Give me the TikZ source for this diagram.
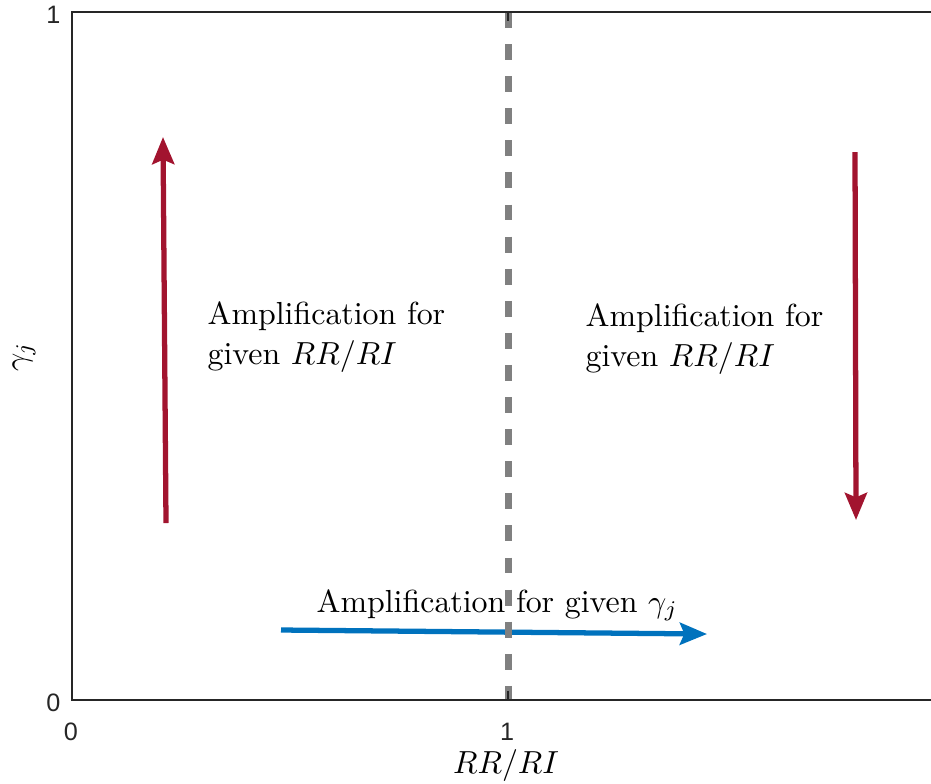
\documentclass[tikz,border=0pt]{standalone}
\usepackage{fontspec}
\newfontfamily\ticksf{Liberation Sans}
\usetikzlibrary{arrows.meta}
\definecolor{mred}{HTML}{A2142F}
\definecolor{mblue}{HTML}{0072BD}
\definecolor{axgray}{HTML}{262626}
\definecolor{dashgray}{HTML}{808080}
\begin{document}
\begin{tikzpicture}[x=0.3135pt,y=-0.3135pt,
  axisline/.style={draw=axgray,line width=0.45pt},
  ticklbl/.style={inner sep=0pt,text=axgray,font=\ticksf\fontsize{7.9}{9}\selectfont},
  lbl/.style={inner sep=0pt,align=left,font=\fontsize{10}{12.4}\selectfont},
  redarrow/.style={draw=mred,line width=1.65pt,-{Stealth[length=8.5pt,width=6.9pt,inset=1.4pt]}},
  bluearrow/.style={draw=mblue,line width=1.65pt,-{Stealth[length=8.5pt,width=6.9pt,inset=1.4pt]}},
  dividerline/.style={draw=dashgray,line width=2.2pt,dash pattern=on 5pt off 5.06pt}]
\useasboundingbox (0,0) rectangle (931,783);
% axes box
\coordinate (tl) at (72,12);
\coordinate (bl) at (72,700);
\coordinate (tr) at (931,12);
\coordinate (br) at (931,700);
% tick ends
\coordinate (xt0b) at (72,691);
\coordinate (xt1b) at (508,700);
\coordinate (xt1bi) at (508,691);
\coordinate (xt0t) at (72,21);
\coordinate (xt1t) at (508,12);
\coordinate (xt1ti) at (508,21);
\coordinate (yt1i) at (81,12);
\coordinate (yt0i) at (81,700);
% labels
\node[ticklbl,anchor=base east] (y1) at (61,23) {1};
\node[ticklbl,anchor=base east] (y0) at (61,711) {0};
\node[ticklbl,anchor=base] (x0) at (71,740) {0};
\node[ticklbl,anchor=base] (x1) at (507,740) {1};
\node[inner sep=0pt,anchor=base] (xlab) at (506,773) {$RR/RI$};
\node[inner sep=0pt,rotate=90] (ylab) at (24,357) {$\gamma_j$};
% text annotations
\node[lbl,anchor=base west] (tleft) at (207,364) {Amplification for\\given $RR/RI$};
\node[lbl,anchor=base west] (tright) at (585,366) {Amplification for\\given $RR/RI$};
\node[lbl,anchor=base west] (tbottom) at (316,612) {Amplification for given $\gamma_j$};
% arrows
\coordinate (la0) at (166,523);
\coordinate (la1) at (163,137);
\coordinate (ra0) at (855,152);
\coordinate (ra1) at (856,520);
\coordinate (ba0) at (281,630);
\coordinate (ba1) at (707,634);
\draw[redarrow] (la0) -- (la1);
\draw[redarrow] (ra0) -- (ra1);
\draw[bluearrow] (ba0) -- (ba1);
% dashed divider
\coordinate (dtop) at (508,12);
\coordinate (dbot) at (508,700);
\draw[dividerline] (dtop) -- (dbot);
% axes
\draw[axisline] (tr) -- (tl) -- (bl) -- (br);
\draw[axisline] (bl) -- (xt0b);
\draw[axisline] (xt1b) -- (xt1bi);
\draw[axisline] (tl) -- (xt0t);
\draw[axisline] (xt1t) -- (xt1ti);
\draw[axisline] (tl) -- (yt1i);
\draw[axisline] (bl) -- (yt0i);
\end{tikzpicture}
\end{document}
